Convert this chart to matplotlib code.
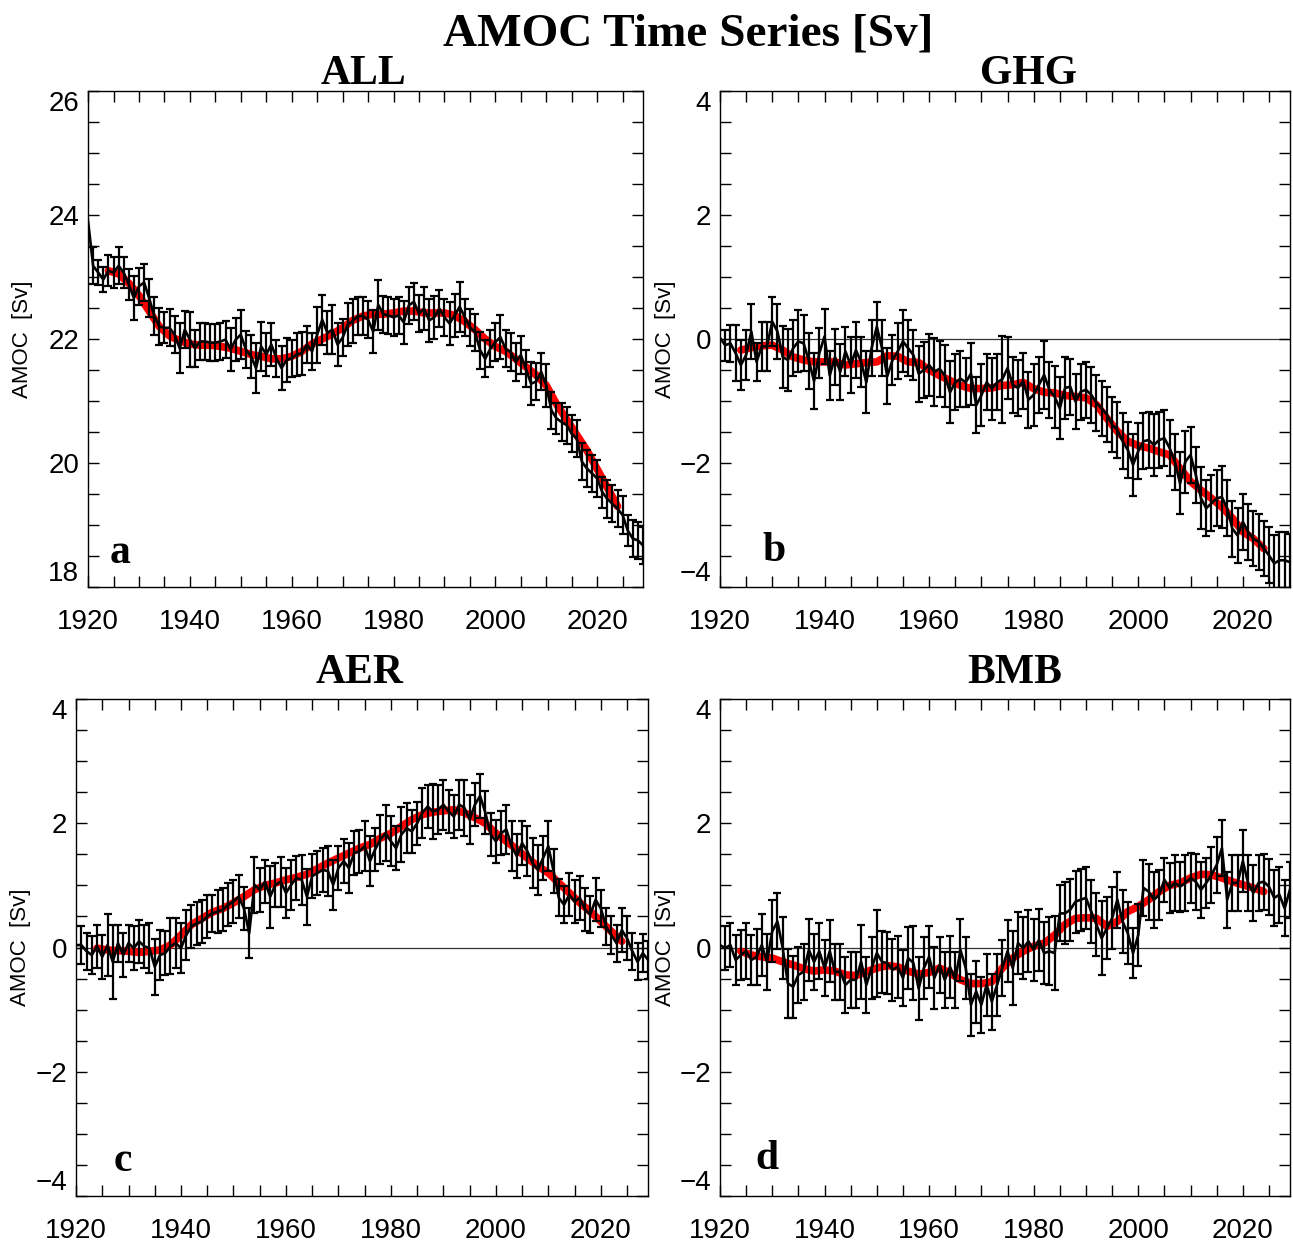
import numpy as np
import matplotlib
matplotlib.use("Agg")
import matplotlib.pyplot as plt
from matplotlib.ticker import MultipleLocator

# annual values 1920-2029 (black line with error bars)
years = np.arange(1920, 2030)
# smoothed curve (red), read every 2 years
smooth_years = np.arange(1924, 2025, 2)

all_vals = [
    23.9, 23.18, 23.07, 22.96, 23.1, 23.07, 23.18, 23.07, 22.88, 22.66,
    22.85, 22.91, 22.66, 22.37, 22.2, 22.18, 22.18, 22.07, 21.85, 22.15,
    21.99, 21.85, 21.96, 21.96, 21.94, 21.94, 21.96, 21.99, 21.83, 21.99,
    22.07, 21.83, 21.72, 21.53, 21.88, 21.75, 21.91, 21.69, 21.53, 21.66,
    21.69, 21.75, 21.77, 21.91, 21.8, 22.07, 22.31, 22.1, 22.15, 21.91,
    22.02, 22.23, 22.29, 22.37, 22.37, 22.31, 22.12, 22.55, 22.4, 22.38,
    22.35, 22.38, 22.27, 22.54, 22.6, 22.41, 22.49, 22.3, 22.35, 22.49,
    22.35, 22.25, 22.38, 22.52, 22.35, 22.19, 22.11, 21.82, 21.68, 21.84,
    21.95, 22.03, 21.84, 21.79, 21.63, 21.74, 21.52, 21.28, 21.31, 21.47,
    21.25, 20.85, 20.72, 20.66, 20.61, 20.47, 20.39, 20.02, 19.91, 19.83,
    19.75, 19.53, 19.42, 19.34, 19.26, 19.16, 18.91, 18.78, 18.75, 18.67]
all_err = [
    np.nan, 0.3, 0.2, 0.2, 0.25, 0.25, 0.3, 0.25, 0.25, 0.35,
    0.3, 0.3, 0.3, 0.3, 0.3, 0.25, 0.3, 0.3, 0.4, 0.3,
    0.45, 0.3, 0.3, 0.3, 0.3, 0.3, 0.3, 0.3, 0.35, 0.35,
    0.4, 0.3, 0.35, 0.4, 0.4, 0.35, 0.35, 0.3, 0.35, 0.35,
    0.3, 0.35, 0.35, 0.3, 0.3, 0.45, 0.4, 0.35, 0.4, 0.35,
    0.3, 0.35, 0.35, 0.3, 0.3, 0.3, 0.35, 0.4, 0.3, 0.3,
    0.3, 0.3, 0.35, 0.3, 0.3, 0.3, 0.35, 0.35, 0.35, 0.3,
    0.3, 0.35, 0.35, 0.4, 0.3, 0.3, 0.3, 0.3, 0.3, 0.3,
    0.3, 0.35, 0.3, 0.3, 0.3, 0.3, 0.3, 0.35, 0.3, 0.3,
    0.35, 0.3, 0.25, 0.3, 0.3, 0.3, 0.3, 0.3, 0.3, 0.3,
    0.3, 0.25, 0.3, 0.3, 0.3, 0.3, 0.25, 0.3, 0.3, 0.3]
all_smooth = [
    23.1, 23.05, 22.9, 22.7, 22.45, 22.2, 22.05, 21.97, 21.92, 21.9,
    21.9, 21.88, 21.85, 21.8, 21.75, 21.72, 21.68, 21.68, 21.72, 21.8,
    21.92, 22.0, 22.08, 22.18, 22.3, 22.37, 22.4, 22.4, 22.42, 22.45,
    22.45, 22.42, 22.42, 22.42, 22.38, 22.28, 22.15, 22.0, 21.88, 21.8,
    21.68, 21.55, 21.42, 21.25, 20.95, 20.7, 20.45, 20.2, 19.9, 19.6,
    19.3]

ghg_vals = [
    0.02, -0.1, -0.07, -0.23, -0.42, -0.26, 0.12, -0.37, -0.12, -0.12,
    0.28, 0.12, -0.29, -0.34, -0.15, -0.04, -0.07, -0.35, -0.68, -0.23,
    0.04, -0.59, -0.29, -0.53, -0.2, -0.42, -0.18, -0.37, -0.7, -0.15,
    0.2, -0.15, -0.6, -0.34, -0.2, -0.04, -0.15, -0.26, -0.56, -0.5,
    -0.42, -0.53, -0.48, -0.59, -0.86, -0.7, -0.64, -0.7, -0.56, -1.07,
    -0.91, -0.7, -0.8, -0.7, -0.65, -0.47, -0.74, -0.79, -0.68, -0.98,
    -0.9, -0.74, -0.58, -0.82, -0.93, -1.12, -0.79, -0.77, -1.01, -0.85,
    -0.82, -0.9, -1.03, -1.12, -1.22, -1.38, -1.47, -1.65, -1.79, -2.03,
    -1.81, -1.65, -1.63, -1.71, -1.63, -1.6, -1.76, -1.98, -2.33, -1.98,
    -1.87, -2.19, -2.57, -2.73, -2.65, -2.57, -2.55, -2.73, -3.06, -3.17,
    -2.95, -3.11, -3.22, -3.27, -3.38, -3.49, -3.62, -3.57, -3.57, -3.6]
ghg_err = [
    np.nan, 0.25, 0.3, 0.45, 0.4, 0.4, 0.45, 0.3, 0.4, 0.4,
    0.4, 0.45, 0.5, 0.5, 0.45, 0.5, 0.45, 0.45, 0.45, 0.4,
    0.45, 0.4, 0.45, 0.45, 0.4, 0.45, 0.45, 0.4, 0.5, 0.45,
    0.4, 0.45, 0.45, 0.4, 0.45, 0.5, 0.45, 0.4, 0.45, 0.45,
    0.5, 0.55, 0.45, 0.5, 0.5, 0.45, 0.45, 0.4, 0.5, 0.45,
    0.5, 0.45, 0.5, 0.45, 0.7, 0.5, 0.45, 0.45, 0.45, 0.45,
    0.5, 0.45, 0.55, 0.45, 0.5, 0.5, 0.5, 0.45, 0.45, 0.45,
    0.45, 0.45, 0.45, 0.45, 0.45, 0.45, 0.45, 0.45, 0.45, 0.5,
    0.45, 0.45, 0.45, 0.5, 0.45, 0.45, 0.45, 0.45, 0.5, 0.5,
    0.45, 0.45, 0.5, 0.45, 0.45, 0.45, 0.5, 0.45, 0.45, 0.45,
    0.45, 0.45, 0.45, 0.45, 0.45, 0.45, 0.45, 0.45, 0.45, 0.45]
ghg_smooth = [
    -0.18, -0.14, -0.11, -0.1, -0.18, -0.29, -0.34, -0.37, -0.37, -0.37,
    -0.42, -0.4, -0.38, -0.37, -0.27, -0.28, -0.37, -0.38, -0.5, -0.59,
    -0.67, -0.75, -0.8, -0.8, -0.79, -0.75, -0.74, -0.7, -0.8, -0.86,
    -0.87, -0.91, -0.93, -0.95, -1.06, -1.28, -1.49, -1.65, -1.72, -1.76,
    -1.82, -1.87, -2.09, -2.3, -2.44, -2.57, -2.71, -2.89, -3.11, -3.22,
    -3.38]

aer_vals = [
    0.04, 0.04, -0.06, -0.12, 0.02, -0.15, 0.04, -0.23, 0.07, -0.12,
    0.07, -0.01, 0.1, 0.02, -0.01, -0.31, -0.12, -0.09, 0.02, 0.07,
    -0.01, 0.2, 0.34, 0.39, 0.42, 0.5, 0.55, 0.58, 0.61, 0.69,
    0.74, 0.82, 0.63, 0.23, 1.01, 0.93, 1.06, 0.82, 1.01, 1.06,
    0.88, 1.01, 1.12, 1.09, 0.82, 1.15, 1.2, 1.25, 1.23, 1.01,
    1.28, 1.39, 1.28, 1.52, 1.55, 1.63, 1.39, 1.58, 1.74, 1.84,
    1.71, 1.6, 1.82, 1.92, 1.87, 2.0, 2.17, 2.27, 2.19, 2.22,
    2.3, 2.19, 2.11, 2.3, 2.25, 2.06, 2.3, 2.44, 2.17, 1.82,
    1.71, 1.84, 1.9, 1.63, 1.47, 1.68, 1.55, 1.36, 1.25, 1.44,
    1.63, 1.23, 0.8, 0.69, 0.85, 0.74, 0.8, 0.61, 0.53, 0.77,
    0.63, 0.34, 0.2, 0.07, 0.28, 0.15, -0.06, -0.23, -0.09, -0.2]
aer_err = [
    np.nan, 0.3, 0.3, 0.3, 0.35, 0.35, 0.5, 0.6, 0.3, 0.35,
    0.3, 0.35, 0.35, 0.35, 0.4, 0.45, 0.4, 0.35, 0.45, 0.4,
    0.4, 0.4, 0.35, 0.35, 0.35, 0.35, 0.3, 0.35, 0.35, 0.35,
    0.35, 0.35, 0.35, 0.4, 0.45, 0.35, 0.35, 0.5, 0.35, 0.4,
    0.4, 0.4, 0.35, 0.4, 0.45, 0.35, 0.35, 0.35, 0.4, 0.4,
    0.35, 0.35, 0.4, 0.35, 0.35, 0.4, 0.4, 0.35, 0.4, 0.45,
    0.4, 0.35, 0.45, 0.4, 0.35, 0.35, 0.4, 0.35, 0.45, 0.4,
    0.4, 0.35, 0.35, 0.4, 0.45, 0.4, 0.35, 0.35, 0.35, 0.35,
    0.35, 0.35, 0.4, 0.4, 0.35, 0.35, 0.4, 0.4, 0.4, 0.35,
    0.4, 0.35, 0.3, 0.3, 0.35, 0.35, 0.35, 0.35, 0.3, 0.35,
    0.3, 0.3, 0.3, 0.3, 0.35, 0.35, 0.3, 0.3, 0.3, 0.3]
aer_smooth = [
    -0.01, -0.04, -0.05, -0.06, -0.08, -0.06, -0.04, 0.04, 0.2, 0.37,
    0.47, 0.57, 0.63, 0.72, 0.82, 0.93, 1.0, 1.04, 1.09, 1.13,
    1.18, 1.27, 1.36, 1.44, 1.52, 1.6, 1.66, 1.76, 1.84, 1.95,
    2.06, 2.14, 2.18, 2.2, 2.22, 2.17, 2.09, 2.0, 1.84, 1.71,
    1.58, 1.44, 1.31, 1.2, 1.04, 0.88, 0.72, 0.58, 0.42, 0.26,
    0.1]

bmb_vals = [
    0.04, -0.01, 0.04, -0.2, -0.12, -0.06, -0.2, -0.15, 0.04, -0.23,
    0.26, 0.42, -0.01, -0.58, -0.63, -0.44, -0.39, -0.04, -0.23, -0.06,
    -0.33, -0.06, -0.39, -0.39, -0.6, -0.52, -0.52, -0.23, -0.6, -0.33,
    -0.09, -0.23, -0.25, -0.36, -0.31, -0.49, -0.17, -0.25, -0.66, -0.33,
    -0.15, -0.49, -0.28, -0.52, -0.31, -0.52, -0.04, -0.33, -0.92, -0.71,
    -0.92, -0.6, -0.87, -0.6, -0.33, -0.06, -0.33, 0.07, -0.01, 0.1,
    -0.04, 0.12, -0.09, -0.06, -0.09, 0.55, 0.55, 0.61, 0.74, 0.77,
    0.8, 0.58, 0.37, 0.15, 0.31, 0.47, 0.77, 0.42, 0.23, -0.09,
    0.2, 0.96, 0.9, 0.77, 0.85, 1.09, 0.96, 1.04, 0.98, 1.04,
    1.12, 1.06, 0.93, 1.04, 1.17, 1.33, 1.6, 0.77, 1.04, 1.04,
    1.39, 1.04, 0.88, 1.04, 1.06, 0.98, 0.8, 0.85, 0.63, 0.93]
bmb_err = [
    np.nan, 0.35, 0.35, 0.4, 0.4, 0.45, 0.4, 0.45, 0.5, 0.45,
    0.5, 0.45, 0.5, 0.55, 0.5, 0.45, 0.45, 0.5, 0.45, 0.45,
    0.45, 0.5, 0.45, 0.45, 0.45, 0.45, 0.45, 0.6, 0.45, 0.5,
    0.7, 0.5, 0.5, 0.5, 0.5, 0.45, 0.5, 0.6, 0.5, 0.5,
    0.5, 0.5, 0.45, 0.45, 0.5, 0.45, 0.5, 0.5, 0.5, 0.5,
    0.45, 0.5, 0.45, 0.5, 0.45, 0.5, 0.6, 0.5, 0.5, 0.5,
    0.5, 0.5, 0.5, 0.55, 0.6, 0.45, 0.5, 0.5, 0.5, 0.5,
    0.5, 0.5, 0.5, 0.6, 0.5, 0.5, 0.45, 0.5, 0.5, 0.4,
    0.5, 0.45, 0.45, 0.45, 0.4, 0.35, 0.4, 0.45, 0.4, 0.45,
    0.4, 0.45, 0.45, 0.4, 0.45, 0.45, 0.45, 0.45, 0.45, 0.45,
    0.5, 0.45, 0.45, 0.45, 0.45, 0.45, 0.45, 0.45, 0.45, 0.45]
bmb_smooth = [
    -0.06, -0.12, -0.15, -0.17, -0.23, -0.28, -0.34, -0.38, -0.36, -0.38,
    -0.44, -0.45, -0.39, -0.33, -0.29, -0.31, -0.38, -0.43, -0.4, -0.33,
    -0.41, -0.52, -0.58, -0.58, -0.55, -0.33, -0.17, -0.06, 0.02, 0.07,
    0.2, 0.37, 0.47, 0.48, 0.47, 0.34, 0.42, 0.58, 0.66, 0.77,
    0.9, 1.0, 1.04, 1.12, 1.18, 1.17, 1.12, 1.06, 1.01, 0.96,
    0.9]

panels = [
    ("ALL", "a", all_vals, all_err, all_smooth, (18, 26)),
    ("GHG", "b", ghg_vals, ghg_err, ghg_smooth, (-4, 4)),
    ("AER", "c", aer_vals, aer_err, aer_smooth, (-4, 4)),
    ("BMB", "d", bmb_vals, bmb_err, bmb_smooth, (-4, 4)),
]

# axes boxes in figure fraction
boxes = [
    [0.0681, 0.5278, 0.4292, 0.3990],
    [0.5568, 0.5278, 0.4408, 0.3990],
    [0.0588, 0.0378, 0.4424, 0.3998],
    [0.5568, 0.0378, 0.4408, 0.3998],
]
title_pos = [(0.2815, 0.9324), (0.7958, 0.9324), (0.2784, 0.4505), (0.7850, 0.4505)]
letter_pos = [(0.038, 0.048), (0.075, 0.052), (0.065, 0.050), (0.063, 0.054)]
ylab_x = [-0.099, -0.077, -0.079, -0.077]

serif = "Liberation Serif"
sans = "Liberation Sans"

fig = plt.figure(figsize=(12.93, 12.43), dpi=100)
fig.text(0.532, 0.963, "AMOC Time Series [Sv]", ha="center", va="baseline",
         fontsize=34, fontweight="bold", family=serif)

for i, (name, letter, vals, err, smooth, ylim) in enumerate(panels):
    ax = fig.add_axes(boxes[i])
    vals = np.array(vals)
    err = np.array(err)

    if ylim[0] < 0:
        ax.axhline(0, color="#333333", lw=0.9, zorder=1)
    ax.plot(smooth_years, smooth, color="red", lw=5.5, solid_capstyle="round", zorder=2)
    ax.errorbar(years[1:], vals[1:], yerr=err[1:], fmt="none", ecolor="black",
                elinewidth=1.6, capsize=3, capthick=1.6, zorder=3)
    ax.plot(years, vals, color="black", lw=1.9, zorder=4)

    ax.set_xlim(1920, 2029)
    ax.set_ylim(*ylim)
    ax.set_xticks(np.arange(1920, 2021, 20))
    ax.set_yticks(np.arange(ylim[0], ylim[1] + 1, 2))
    ax.xaxis.set_minor_locator(MultipleLocator(5))
    ax.yaxis.set_minor_locator(MultipleLocator(0.5))
    ax.tick_params(which="both", direction="in", top=True, right=True,
                   length=8, width=1.0, color="black")
    ax.tick_params(axis="x", which="major", pad=16, labelsize=20)
    ax.tick_params(axis="y", which="major", pad=6.5, labelsize=20)
    for lab in ax.get_xticklabels() + ax.get_yticklabels():
        lab.set_family(sans)
    # IDL keeps the end labels inside the axis range
    ylabs = ax.get_yticklabels()
    ylabs[0].set_va("bottom")
    ylabs[-1].set_va("top")
    for sp in ax.spines.values():
        sp.set_linewidth(1.0)

    ax.set_ylabel("AMOC  [Sv]", fontsize=16, family=sans)
    ax.yaxis.set_label_coords(ylab_x[i], 0.5)

    ax.text(letter_pos[i][0], letter_pos[i][1], letter, transform=ax.transAxes,
            fontsize=30, fontweight="bold", family=serif, ha="left", va="baseline")
    fig.text(title_pos[i][0], title_pos[i][1], name, ha="center", va="baseline",
             fontsize=30, fontweight="bold", family=serif)

fig.savefig("out.png", dpi=100)
